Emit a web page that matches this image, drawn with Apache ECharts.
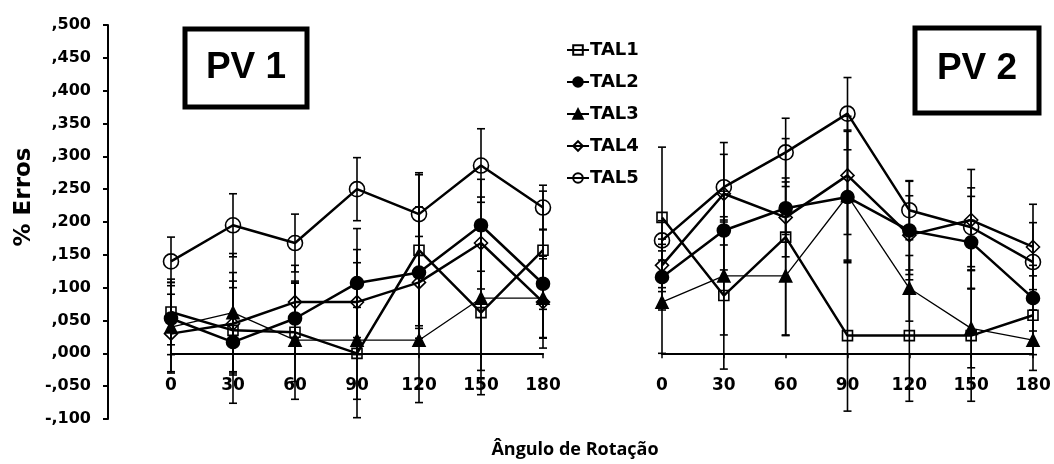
<!DOCTYPE html>
<html>
<head>
<meta charset="utf-8">
<script src="https://cdn.jsdelivr.net/npm/echarts@6/dist/echarts.min.js"></script>
<style>
  html, body { margin: 0; padding: 0; background: #fff; }
  #chart { width: 1054px; height: 464px; }
</style>
</head>
<body>
<div id="chart"></div>
<script>
// Rotation angles (x categories) shared by both panels
const angles = ['0', '30', '60', '90', '120', '150', '180'];
const names = ['TAL1', 'TAL2', 'TAL3', 'TAL4', 'TAL5'];

// PV 1: mean error proportion per angle
const pv1TAL1 = [0.063, 0.035, 0.032, 0.000, 0.157, 0.062, 0.157];
const pv1TAL2 = [0.053, 0.017, 0.053, 0.107, 0.123, 0.195, 0.106];
const pv1TAL3 = [0.040, 0.062, 0.020, 0.020, 0.020, 0.084, 0.084];
const pv1TAL4 = [0.030, 0.045, 0.078, 0.078, 0.108, 0.168, 0.078];
const pv1TAL5 = [0.140, 0.195, 0.168, 0.250, 0.212, 0.286, 0.222];
// PV 1: error bar half-widths
const pv1ErrTAL1 = [0.050, 0.065, 0.075, 0.070, 0.115, 0.125, 0.090];
const pv1ErrTAL2 = [0.055, 0.093, 0.054, 0.083, 0.100, 0.070, 0.083];
const pv1ErrTAL3 = [0.068, 0.090, 0.090, 0.118, 0.095, 0.110, 0.060];
const pv1ErrTAL4 = [0.060, 0.078, 0.056, 0.080, 0.070, 0.070, 0.070];
const pv1ErrTAL5 = [0.037, 0.048, 0.044, 0.048, 0.063, 0.056, 0.034];

// PV 2: mean error proportion per angle
const pv2TAL1 = [0.207, 0.088, 0.177, 0.027, 0.027, 0.027, 0.058];
const pv2TAL2 = [0.116, 0.187, 0.221, 0.238, 0.187, 0.169, 0.084];
const pv2TAL3 = [0.078, 0.118, 0.118, 0.240, 0.099, 0.038, 0.020];
const pv2TAL4 = [0.134, 0.243, 0.207, 0.271, 0.180, 0.203, 0.162];
const pv2TAL5 = [0.172, 0.253, 0.306, 0.365, 0.218, 0.192, 0.139];
// PV 2: error bar half-widths
const pv2ErrTAL1 = [0.107, 0.112, 0.150, 0.115, 0.100, 0.100, 0.060];
const pv2ErrTAL2 = [0.050, 0.060, 0.040, 0.100, 0.075, 0.070, 0.050];
const pv2ErrTAL3 = [0.078, 0.090, 0.090, 0.100, 0.050, 0.060, 0.046];
const pv2ErrTAL4 = [0.040, 0.078, 0.060, 0.090, 0.060, 0.077, 0.065];
const pv2ErrTAL5 = [0.030, 0.050, 0.052, 0.055, 0.045, 0.060, 0.060];

// Y axis ticks
const yMin = -0.1, yMax = 0.5, yStep = 0.05;

const pv1Means = [pv1TAL1, pv1TAL2, pv1TAL3, pv1TAL4, pv1TAL5];
const pv1Errs = [pv1ErrTAL1, pv1ErrTAL2, pv1ErrTAL3, pv1ErrTAL4, pv1ErrTAL5];
const pv2Means = [pv2TAL1, pv2TAL2, pv2TAL3, pv2TAL4, pv2TAL5];
const pv2Errs = [pv2ErrTAL1, pv2ErrTAL2, pv2ErrTAL3, pv2ErrTAL4, pv2ErrTAL5];

const FONT = 'DejaVu Sans';
const INK = '#000';

// Marker look per series
const markers = [
  { symbol: 'rect', size: 10, fill: 'rgba(0,0,0,0)', width: 2.5 },
  { symbol: 'circle', size: 13, fill: INK, width: 2.5 },
  { symbol: 'triangle', size: 12, fill: INK, width: 1.3 },
  { symbol: 'diamond', size: 13, fill: 'rgba(0,0,0,0)', width: 2.5 },
  { symbol: 'circle', size: 15, fill: 'rgba(0,0,0,0)', width: 2.5 }
];

function fmtY(v) {
  const r = Math.round(v * 1000) / 1000;
  const s = Math.abs(r).toFixed(3).slice(1);
  return (r < 0 ? '-' : '') + s.replace('.', ',');
}

function errorBarSeries(means, errs, axisIdx) {
  const data = [];
  means.forEach((arr, s) => arr.forEach((m, i) => data.push([i, m, errs[s][i]])));
  return {
    type: 'custom',
    xAxisIndex: axisIdx, yAxisIndex: axisIdx,
    silent: true, z: 1,
    renderItem: function (params, api) {
      const x = api.value(0), m = api.value(1), e = api.value(2);
      const top = api.coord([x, m + e]);
      const bot = api.coord([x, m - e]);
      const cw = 4;
      const st = { stroke: INK, lineWidth: 1.6 };
      return {
        type: 'group',
        children: [
          { type: 'line', shape: { x1: top[0], y1: top[1], x2: bot[0], y2: bot[1] }, style: st },
          { type: 'line', shape: { x1: top[0] - cw, y1: top[1], x2: top[0] + cw, y2: top[1] }, style: st },
          { type: 'line', shape: { x1: bot[0] - cw, y1: bot[1], x2: bot[0] + cw, y2: bot[1] }, style: st }
        ]
      };
    },
    encode: { x: 0, y: 1 },
    data: data
  };
}

function lineSeries(means, axisIdx) {
  return means.map((arr, s) => ({
    name: names[s],
    type: 'line',
    xAxisIndex: axisIdx, yAxisIndex: axisIdx,
    data: arr,
    z: 3 + s,
    symbol: markers[s].symbol,
    symbolSize: markers[s].size,
    showAllSymbol: true,
    lineStyle: { color: INK, width: markers[s].width },
    itemStyle: { color: markers[s].fill, borderColor: INK, borderWidth: 1.6 },
    emphasis: { disabled: true },
    animation: false
  }));
}

function xAxisDef(gridIndex) {
  return {
    type: 'category', gridIndex: gridIndex, data: angles, boundaryGap: false,
    axisLine: { onZero: true, lineStyle: { color: INK, width: 2 } },
    axisTick: { show: true, length: 5, lineStyle: { color: INK, width: 1.5 } },
    axisLabel: { margin: -42, color: INK, fontFamily: FONT, fontWeight: 'bold', fontSize: 17 },
    splitLine: { show: false }
  };
}

const chart = echarts.init(document.getElementById('chart'), null, { renderer: 'canvas' });
chart.setOption({
  backgroundColor: '#fff',
  animation: false,
  grid: [
    { left: 171, top: 25, width: 372, height: 394 },
    { left: 662, top: 25, width: 371, height: 394 }
  ],
  xAxis: [xAxisDef(0), xAxisDef(1)],
  yAxis: [
    {
      type: 'value', gridIndex: 0, min: yMin, max: yMax, interval: yStep, offset: 63,
      axisLine: { show: true, lineStyle: { color: INK, width: 2 } },
      axisTick: { show: true, length: 5, lineStyle: { color: INK, width: 2 } },
      axisLabel: { formatter: fmtY, margin: 17, color: INK, fontFamily: FONT, fontWeight: 'bold', fontSize: 16 },
      splitLine: { show: false }
    },
    {
      type: 'value', gridIndex: 1, min: yMin, max: yMax, interval: yStep,
      axisLine: { show: false }, axisTick: { show: false }, axisLabel: { show: false },
      splitLine: { show: false }
    }
  ],
  legend: {
    data: names,
    orient: 'vertical',
    left: 561, top: 36,
    itemWidth: 22, itemHeight: 12, itemGap: 14,
    textStyle: { color: INK, fontFamily: FONT, fontWeight: 'bold', fontSize: 18, padding: [0, 0, 0, -4] },
    selectedMode: false
  },
  graphic: [
    { type: 'rect', shape: { x: 185, y: 29, width: 122, height: 78 }, style: { fill: '#fff', stroke: INK, lineWidth: 5 } },
    { type: 'text', x: 246, y: 68, style: { text: 'PV 1', fill: INK, font: 'bold 37px "Liberation Sans"', textAlign: 'center', textVerticalAlign: 'middle' } },
    { type: 'rect', shape: { x: 915, y: 28, width: 124, height: 85 }, style: { fill: '#fff', stroke: INK, lineWidth: 5 } },
    { type: 'text', x: 977, y: 69, style: { text: 'PV 2', fill: INK, font: 'bold 37px "Liberation Sans"', textAlign: 'center', textVerticalAlign: 'middle' } },
    { type: 'text', x: 24, y: 197, rotation: Math.PI / 2, style: { text: '% Erros', fill: INK, font: 'bold 23px "DejaVu Sans"', textAlign: 'center', textVerticalAlign: 'middle' } },
    { type: 'text', x: 575, y: 450, style: { text: 'Ângulo de Rotação', fill: INK, font: 'bold 18px "Open Sans"', textAlign: 'center', textVerticalAlign: 'middle' } }
  ],
  series: [
    errorBarSeries(pv1Means, pv1Errs, 0),
    errorBarSeries(pv2Means, pv2Errs, 1),
    ...lineSeries(pv1Means, 0),
    ...lineSeries(pv2Means, 1)
  ]
});
</script>
</body>
</html>
